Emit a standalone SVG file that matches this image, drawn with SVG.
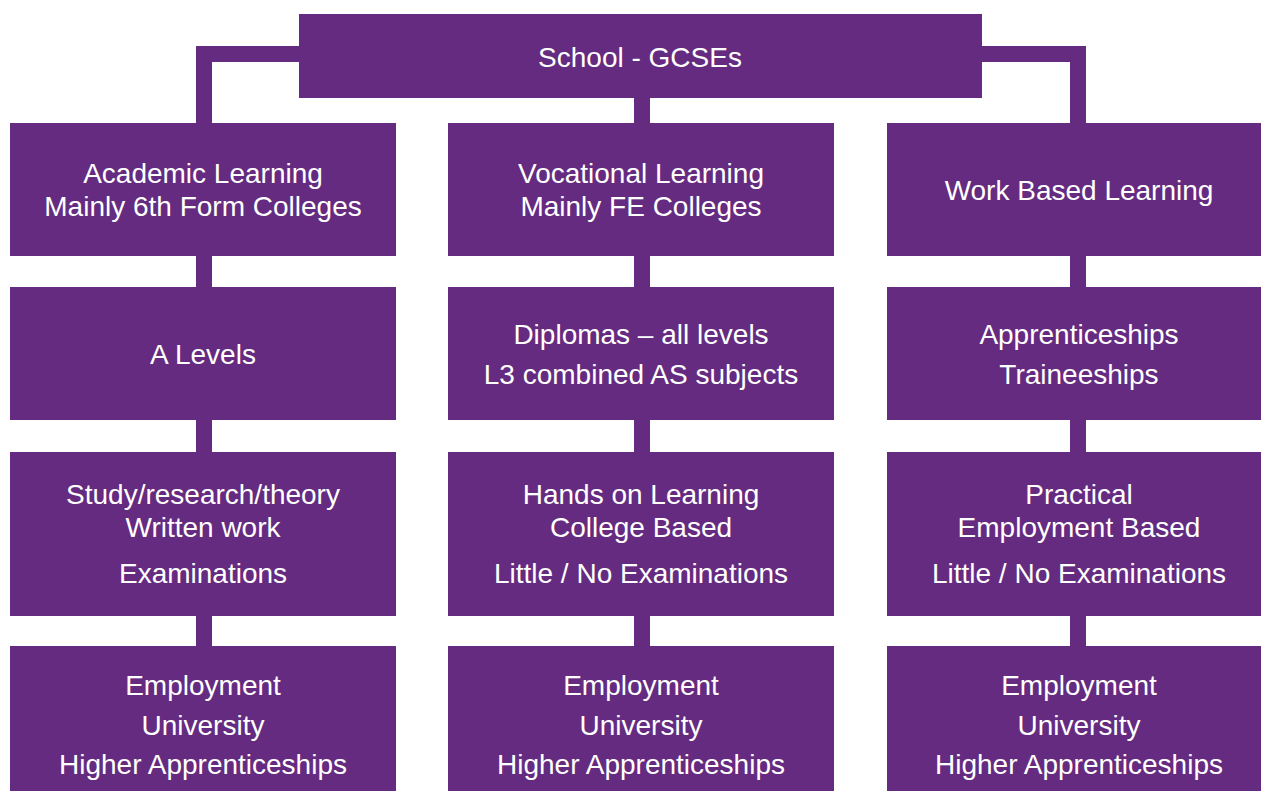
<svg xmlns="http://www.w3.org/2000/svg" width="1261" height="791" viewBox="0 0 1261 791">
<style>
.box{fill:#652b80}
.conn{fill:none;stroke:#652b80;stroke-width:16;stroke-linecap:butt;stroke-linejoin:miter}
.t{font-family:"Liberation Sans",Arial,sans-serif;font-size:28px;fill:#ffffff;text-anchor:middle}
</style>
<rect width="1261" height="791" fill="#ffffff"/>
<g id="connectors">
<polyline class="conn" points="299,54 204,54 204,123"/>
<polyline class="conn" points="982,54 1078,54 1078,123"/>
<line class="conn" x1="642" y1="98" x2="642" y2="123"/>
<line class="conn" x1="204" y1="256" x2="204" y2="287"/>
<line class="conn" x1="204" y1="420" x2="204" y2="452"/>
<line class="conn" x1="204" y1="616" x2="204" y2="646"/>
<line class="conn" x1="642" y1="256" x2="642" y2="287"/>
<line class="conn" x1="642" y1="420" x2="642" y2="452"/>
<line class="conn" x1="642" y1="616" x2="642" y2="646"/>
<line class="conn" x1="1078" y1="256" x2="1078" y2="287"/>
<line class="conn" x1="1078" y1="420" x2="1078" y2="452"/>
<line class="conn" x1="1078" y1="616" x2="1078" y2="646"/>
</g>
<g id="school">
<rect class="box" x="299" y="14" width="683" height="84"/>
<text class="t" x="640" y="67">School - GCSEs</text>
</g>
<g id="academic">
<rect class="box" x="10" y="123" width="386" height="133"/>
<text class="t" x="203" y="183">Academic Learning</text>
<text class="t" x="203" y="216">Mainly 6th Form Colleges</text>
</g>
<g id="vocational">
<rect class="box" x="448" y="123" width="386" height="133"/>
<text class="t" x="641" y="183">Vocational Learning</text>
<text class="t" x="641" y="216">Mainly FE Colleges</text>
</g>
<g id="workbased">
<rect class="box" x="887" y="123" width="386" height="133"/>
<text class="t" x="1079" y="200">Work Based Learning</text>
</g>
<g id="alevels">
<rect class="box" x="10" y="287" width="386" height="133"/>
<text class="t" x="203" y="364">A Levels</text>
</g>
<g id="diplomas">
<rect class="box" x="448" y="287" width="386" height="133"/>
<text class="t" x="641" y="344">Diplomas – all levels</text>
<text class="t" x="641" y="384">L3 combined AS subjects</text>
</g>
<g id="apprenticeships">
<rect class="box" x="887" y="287" width="386" height="133"/>
<text class="t" x="1079" y="344">Apprenticeships</text>
<text class="t" x="1079" y="384">Traineeships</text>
</g>
<g id="study">
<rect class="box" x="10" y="452" width="386" height="164"/>
<text class="t" x="203" y="504">Study/research/theory</text>
<text class="t" x="203" y="537">Written work</text>
<text class="t" x="203" y="583">Examinations</text>
</g>
<g id="handson">
<rect class="box" x="448" y="452" width="386" height="164"/>
<text class="t" x="641" y="504">Hands on Learning</text>
<text class="t" x="641" y="537">College Based</text>
<text class="t" x="641" y="583">Little / No Examinations</text>
</g>
<g id="practical">
<rect class="box" x="887" y="452" width="386" height="164"/>
<text class="t" x="1079" y="504">Practical</text>
<text class="t" x="1079" y="537">Employment Based</text>
<text class="t" x="1079" y="583">Little / No Examinations</text>
</g>
<g id="outcomes-academic">
<rect class="box" x="10" y="646" width="386" height="150"/>
<text class="t" x="203" y="695">Employment</text>
<text class="t" x="203" y="735">University</text>
<text class="t" x="203" y="774">Higher Apprenticeships</text>
</g>
<g id="outcomes-vocational">
<rect class="box" x="448" y="646" width="386" height="150"/>
<text class="t" x="641" y="695">Employment</text>
<text class="t" x="641" y="735">University</text>
<text class="t" x="641" y="774">Higher Apprenticeships</text>
</g>
<g id="outcomes-workbased">
<rect class="box" x="887" y="646" width="386" height="150"/>
<text class="t" x="1079" y="695">Employment</text>
<text class="t" x="1079" y="735">University</text>
<text class="t" x="1079" y="774">Higher Apprenticeships</text>
</g>
</svg>
